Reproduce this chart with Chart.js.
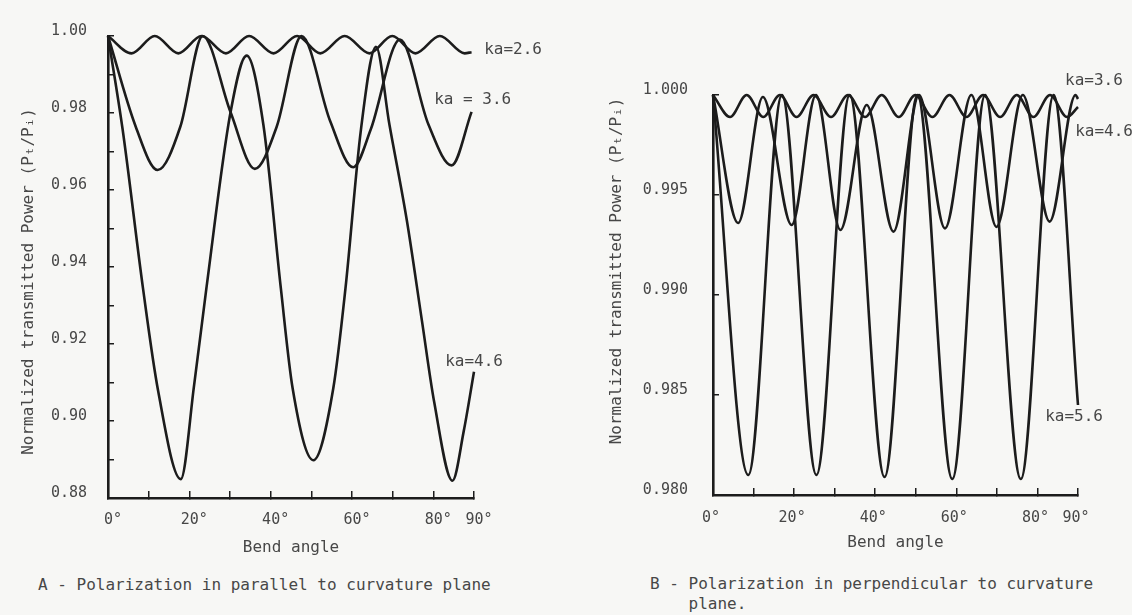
<!DOCTYPE html>
<html>
<head>
<meta charset="utf-8">
<script src="https://cdn.jsdelivr.net/npm/chart.js@4.4.0/dist/chart.umd.min.js"></script>
<style>
  html, body { margin: 0; padding: 0; background: #f7f7f5; }
  #page { position: relative; width: 1132px; height: 615px; overflow: hidden;
          font-family: "DejaVu Sans Mono", monospace; color: #474747; }
  canvas { position: absolute; top: 0; }
  #chartA { left: 0; }
  #chartB { left: 566px; }
  .caption { position: absolute; font-size: 16px; line-height: 20px; white-space: pre; }
</style>
</head>
<body>
<div id="page">
  <canvas id="chartA" width="566" height="570"></canvas>
  <canvas id="chartB" width="566" height="570"></canvas>
  <div class="caption" style="left:38px; top:575px;">A - Polarization in parallel to curvature plane</div>
  <div class="caption" style="left:650px; top:574px;">B - Polarization in perpendicular to curvature
    plane.</div>
</div>
<script>
// bend angle (deg) / normalized transmitted power Pt/Pi

// A - parallel polarization
const angleA26 = [0, 5.8, 11.5, 17.3, 23.0, 29.0, 34.7, 40.7, 46.5, 52.2, 58.2, 64.3, 69.9, 75.6, 81.6, 87.7, 89.4];
const powerA26 = [1.000, 0.9955, 1.000, 0.9955, 1.000, 0.9955, 1.000, 0.9955, 1.000, 0.9955, 1.000, 0.9955, 1.000, 0.9955, 1.000, 0.9955, 0.9958];

const angleA36 = [0, 6.8, 12.2, 17.8, 23.3, 30.1, 36.1, 41.5, 47.6, 54.6, 60.3, 64.6, 71.8, 78.8, 84.5, 89.4];
const powerA36 = [1.000, 0.9765, 0.9652, 0.9765, 1.000, 0.9803, 0.9655, 0.9765, 1.000, 0.978, 0.9659, 0.9757, 0.9991, 0.977, 0.9664, 0.9803];

const angleA46 = [0, 3.6, 8.6, 12.3, 17.9, 21.2, 24.2, 30.1, 34.1, 38.2, 42.5, 45.4, 50.5, 55.4, 58.4, 62.2, 65.9, 69.2, 73.5, 77.2, 80.2, 84.7, 87.5, 90];
const powerA46 = [1.000, 0.9757, 0.9345, 0.908, 0.8849, 0.9095, 0.9345, 0.980, 0.9949, 0.977, 0.9345, 0.9085, 0.8898, 0.9085, 0.9345, 0.9757, 0.9972, 0.977, 0.952, 0.926, 0.905, 0.8845, 0.8975, 0.9128];

// B - perpendicular polarization
const angleB36 = [0, 4.2, 8.3, 12.4, 16.5, 20.6, 24.8, 29.1, 33.3, 37.5, 41.6, 45.8, 49.9, 54.1, 58.3, 62.5, 66.6, 70.8, 74.9, 79.0, 83.1, 87.3, 90];
const powerB36 = [1.000, 0.9989, 1.000, 0.9989, 1.000, 0.9989, 1.000, 0.9989, 1.000, 0.9989, 1.000, 0.9989, 1.000, 0.9989, 1.000, 0.9989, 1.000, 0.9989, 1.000, 0.9989, 1.000, 0.9989, 0.9994];

const angleB46 = [0, 6.2, 12.3, 19.4, 25.4, 31.4, 37.9, 44.5, 50.8, 57.2, 63.7, 69.9, 76.4, 83.0, 89.4, 90];
const powerB46 = [1.000, 0.9936, 0.9999, 0.9935, 1.000, 0.99325, 0.9995, 0.99317, 1.000, 0.99333, 1.000, 0.9934, 1.000, 0.99367, 1.000, 0.9998];

const angleB56 = [0, 8.7, 17.0, 25.5, 33.7, 42.3, 50.4, 59.0, 67.1, 75.9, 84.0, 90];
const powerB56 = [1.000, 0.981, 1.000, 0.981, 1.000, 0.9809, 1.000, 0.9808, 1.000, 0.9808, 1.000, 0.9845];

const xTickLabels = [0, 20, 40, 60, 80, 90];

// where the ka tags sit, in data units
const tagsA = [
  { text: 'ka=2.6', x: 92.5, y: 0.9965 },
  { text: 'ka = 3.6', x: 80.2, y: 0.9833 },
  { text: 'ka=4.6', x: 82.9, y: 0.9153 },
];
const tagsB = [
  { text: 'ka=3.6', x: 86.8, y: 1.0007 },
  { text: 'ka=4.6', x: 89.3, y: 0.99815 },
  { text: 'ka=5.6', x: 81.9, y: 0.9839 },
];

const ink = '#1c1c1c';
const textInk = '#474747';
const mono = "'DejaVu Sans Mono', monospace";

function curve(angles, power) {
  return {
    data: angles.map((a, i) => ({ x: a, y: power[i] })),
    borderColor: ink,
    borderWidth: 2.6,
    pointRadius: 0,
    fill: false,
    cubicInterpolationMode: 'monotone',
    clip: 6,
  };
}

const curveTags = {
  id: 'curveTags',
  afterDatasetsDraw(chart, args, opts) {
    const { ctx, scales: { x, y } } = chart;
    ctx.save();
    ctx.font = '16px ' + mono;
    ctx.fillStyle = textInk;
    ctx.textBaseline = 'middle';
    opts.items.forEach(t => ctx.fillText(t.text, x.getPixelForValue(t.x), y.getPixelForValue(t.y)));
    ctx.restore();
  }
};

function options(cfg) {
  return {
    responsive: false,
    animation: false,
    layout: { padding: { left: 0, top: cfg.top, right: cfg.right, bottom: 0 } },
    plugins: { legend: { display: false }, tooltip: { enabled: false }, curveTags: { items: cfg.tags } },
    scales: {
      x: {
        type: 'linear', min: 0, max: 90,
        afterFit: s => { s.height = cfg.xHeight; },
        border: { color: ink, width: 2.6 },
        grid: { drawOnChartArea: false, drawTicks: true, tickLength: -7, color: ink, lineWidth: 1.5 },
        ticks: {
          stepSize: 10, autoSkip: false, maxRotation: 0,
          padding: cfg.xPad, labelOffset: cfg.xOffset,
          color: textInk, font: { family: mono, size: 15 },
          callback: v => xTickLabels.includes(v) ? v + '°' : '',
        },
        title: { display: true, text: 'Bend angle', color: textInk, font: { family: mono, size: 16 },
                 padding: { top: 0, bottom: cfg.xTitlePad } },
      },
      y: {
        type: 'linear', min: cfg.yMin, max: cfg.yMax,
        afterFit: s => { s.width = cfg.yWidth; },
        border: { color: ink, width: 2.6 },
        grid: { drawOnChartArea: false, drawTicks: true, tickLength: -6, color: ink, lineWidth: 1.5 },
        ticks: {
          stepSize: cfg.yStep, autoSkip: false,
          padding: cfg.yPad, labelOffset: -5,
          color: textInk, font: { family: mono, size: 15 },
          callback: cfg.yLabel,
        },
        title: { display: true, text: cfg.yTitle, color: textInk, font: { family: mono, size: 16 },
                 padding: { top: cfg.yTitlePad, bottom: 0 } },
      },
    },
  };
}

const chartA = new Chart(document.getElementById('chartA'), {
  type: 'line',
  data: { datasets: [curve(angleA26, powerA26), curve(angleA36, powerA36), curve(angleA46, powerA46)] },
  options: options({
    top: 18, right: 92, xHeight: 72, yWidth: 108,
    xPad: 20, xOffset: 5, xTitlePad: 13,
    yMin: 0.88, yMax: 1.0, yStep: 0.01, yPad: 27, yTitlePad: 19,
    yLabel: v => { const n = Math.round(v * 100); return n % 2 === 0 ? (n / 100).toFixed(2) : ''; },
    yTitle: 'Normalized transmitted Power (Pₜ/Pᵢ)   ',
    tags: tagsA,
  }),
  plugins: [curveTags],
});

const chartB = new Chart(document.getElementById('chartB'), {
  type: 'line',
  data: { datasets: [curve(angleB36, powerB36), curve(angleB46, powerB46), curve(angleB56, powerB56)] },
  options: options({
    top: 95, right: 54, xHeight: 75, yWidth: 147,
    xPad: 21, xOffset: -2, xTitlePad: 18,
    yMin: 0.98, yMax: 1.0, yStep: 0.005, yPad: 31, yTitlePad: 41,
    yLabel: v => v.toFixed(3),
    yTitle: '     Normalized transmitted Power (Pₜ/Pᵢ)',
    tags: tagsB,
  }),
  plugins: [curveTags],
});
</script>
</body>
</html>
